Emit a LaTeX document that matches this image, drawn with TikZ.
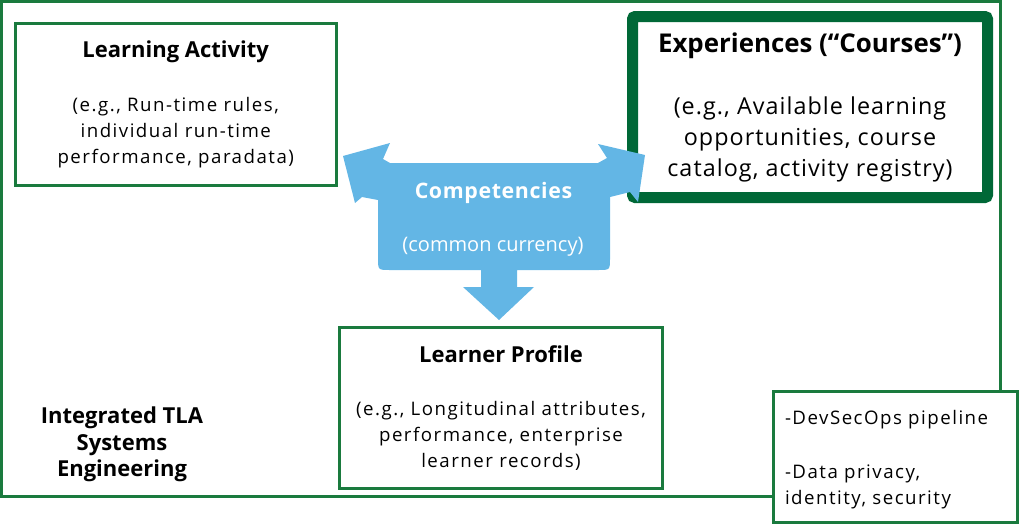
\documentclass[tikz,border=0pt]{standalone}
\usepackage{fontspec}
\setmainfont{Open Sans}
\newfontfamily\bodyfont{Open Sans}[LetterSpace=8]
\newfontfamily\bigbodyfont{Open Sans}[LetterSpace=4.5]
\newfontfamily\compfont{Open Sans}[LetterSpace=3]
\definecolor{framegreen}{RGB}{26,122,62}
\definecolor{darkgreen}{RGB}{0,104,55}
\definecolor{compblue}{RGB}{99,182,229}
\begin{document}
\begin{tikzpicture}[x=0.75pt, y=-0.75pt,
  box/.style={draw=framegreen, line width=2.25pt, fill=white, inner sep=0pt,
  align=center, font=\bodyfont\fontsize{14}{19.5}\selectfont},
  complabel/.style={text=white, anchor=base, inner sep=0pt}, ]
\useasboundingbox (0,0) rectangle (1020,525);
%Rahmen
\node[draw=framegreen, line width=2.25pt, minimum width=749.6pt, minimum height=371.6pt,
  inner sep=0pt] (frame) at (501.25,249.25) {};
%Kaesten
\node[box, minimum width=241pt, minimum height=121.25pt] (activity) at (175.75,104.2)
  {{\rmfamily\fontsize{16.5}{19.5}\bfseries\selectfont Learning Activity}\\[21pt]
  (e.g., Run-time rules,\\ individual run-time\\ performance, paradata)};
\node[box, draw=darkgreen, line width=8.25pt, rounded corners=2pt,
  font=\bigbodyfont\fontsize{17.5}{23.25}\selectfont,
  minimum width=266.25pt, minimum height=135.75pt] (experiences) at (810,107)
  {{\rmfamily\fontsize{19.4}{23.25}\bfseries\selectfont Experiences (“Courses”)}\\[23.25pt]
  (e.g., Available learning\\ opportunities, course\\ catalog, activity registry)};
\node[box, minimum width=242.25pt, minimum height=120.75pt] (profile) at (501,408)
  {{\rmfamily\fontsize{16.5}{19.5}\bfseries\selectfont Learner Profile}\\[20.25pt]
  (e.g., Longitudinal attributes,\\ performance, enterprise\\ learner records)};
\node[box, align=left, text width=165.75pt, minimum width=183pt, minimum height=98.25pt]
  (devsec) at (895.5,457)
  {\rule{0pt}{15pt}-DevSecOps pipeline\\[21pt] -Data privacy,\\ identity, security};
\node[align=center, inner sep=0pt, font=\fontsize{16.5}{20}\bfseries\selectfont]
  (tla) at (122,444.6) {Integrated TLA\\ Systems\\ Engineering};
%Pfeilform
\fill[compblue] (390,163) -- (598,163) -- (607,158) -- (598,144) -- (645,155)
  -- (638,202) -- (630,192) -- (610,197) -- (610,258) .. controls (610,270) .. (598,270)
  -- (517,270) -- (517,287) -- (534,287) -- (499,320) -- (463,287) -- (481,287)
  -- (481,270) -- (390,270) .. controls (378,270) .. (378,258) -- (378,200)
  -- (362,197) -- (355,203) -- (343,156) -- (390,143) -- (383,159) -- cycle;
\node[complabel, font=\compfont\fontsize{16}{19}\bfseries\selectfont] (comp) at (493.5,198.3) {Competencies};
\node[complabel, font=\fontsize{15}{18}\selectfont] (currency) at (493,251.5) {(common currency)};
\end{tikzpicture}
\end{document}
